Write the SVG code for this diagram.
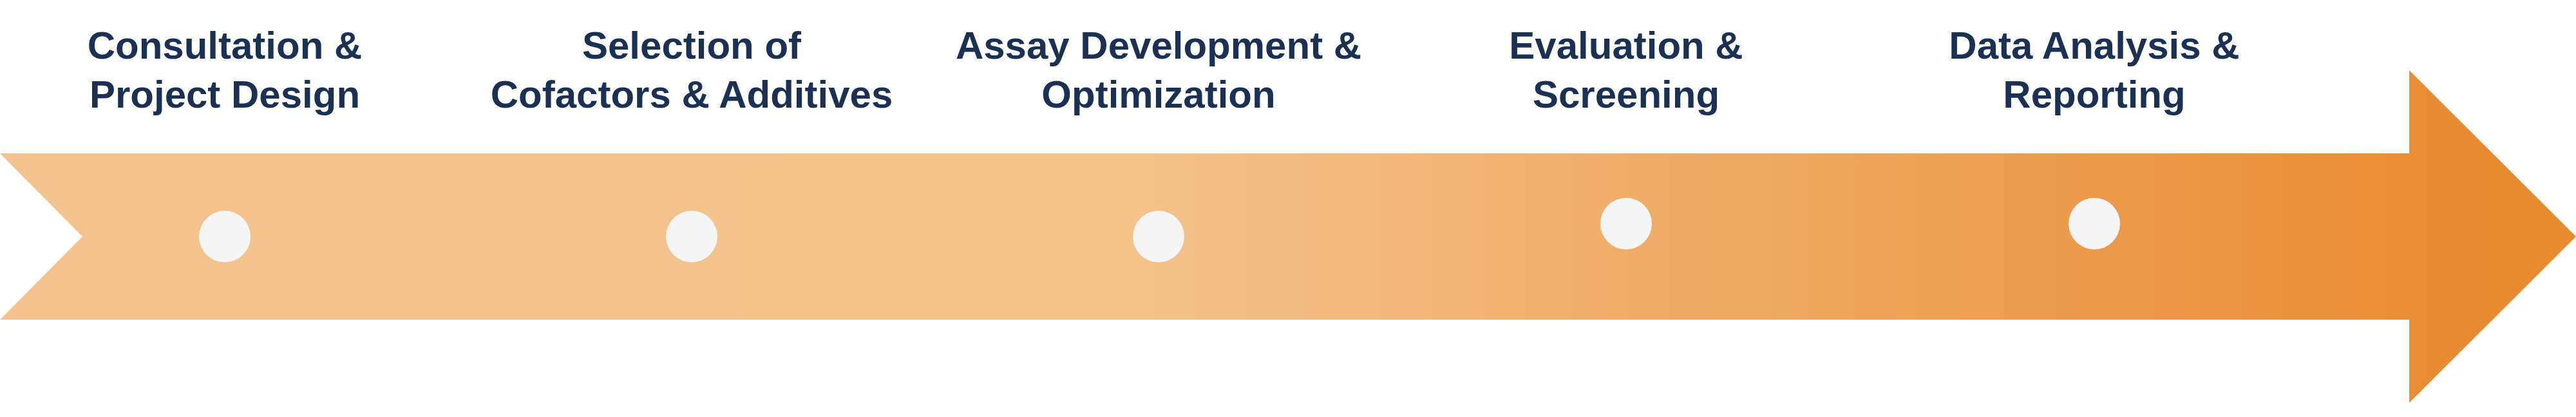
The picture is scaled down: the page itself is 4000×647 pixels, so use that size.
<svg xmlns="http://www.w3.org/2000/svg" width="4000" height="647" viewBox="0 0 4000 647">
  <style>
    .lbl { font-family: "Liberation Sans", Arial, sans-serif; font-weight: bold; font-size: 60px; fill: #1B3153; text-anchor: middle; }
    .dot { fill: #F5F5F5; }
  </style>
  <defs>
    <linearGradient id="grad" gradientUnits="userSpaceOnUse" x1="0" y1="0" x2="4000" y2="0">
      <stop offset="0" stop-color="#F4C38D"/>
      <stop offset="0.43" stop-color="#F4C38C"/>
      <stop offset="0.97" stop-color="#E88A30"/>
      <stop offset="1" stop-color="#E88A30"/>
    </linearGradient>
  </defs>
  <g id="arrow">
    <polygon points="0,238 3741,238 3741,109 4000,367 3741,625 3741,496 0,496 128,367" fill="url(#grad)"/>
  </g>
  <g id="connectors"></g>
  <g id="step1">
    <circle class="dot" cx="349" cy="367" r="40"/>
    <text class="lbl" x="349" y="91">Consultation &amp;</text>
    <text class="lbl" x="349" y="167">Project Design</text>
  </g>
  <g id="step2">
    <circle class="dot" cx="1074" cy="367" r="40"/>
    <text class="lbl" x="1074" y="91">Selection of</text>
    <text class="lbl" x="1074" y="167">Cofactors &amp; Additives</text>
  </g>
  <g id="step3">
    <circle class="dot" cx="1799" cy="367" r="40"/>
    <text class="lbl" x="1799" y="91">Assay Development &amp;</text>
    <text class="lbl" x="1799" y="167">Optimization</text>
  </g>
  <g id="step4">
    <circle class="dot" cx="2525" cy="347" r="40"/>
    <text class="lbl" x="2525" y="91">Evaluation &amp;</text>
    <text class="lbl" x="2525" y="167">Screening</text>
  </g>
  <g id="step5">
    <circle class="dot" cx="3252" cy="347" r="40"/>
    <text class="lbl" x="3252" y="91">Data Analysis &amp;</text>
    <text class="lbl" x="3252" y="167">Reporting</text>
  </g>
</svg>
